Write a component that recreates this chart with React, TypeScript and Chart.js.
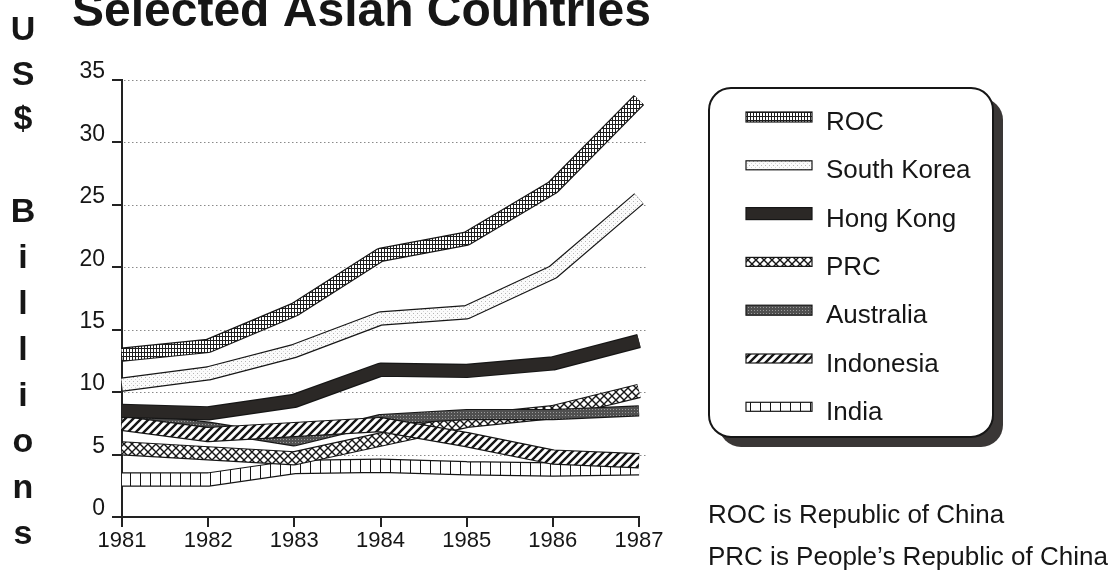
import React, { useEffect, useRef } from 'react';
import { Chart, registerables } from 'chart.js';

Chart.register(...registerables);

const years = ['1981', '1982', '1983', '1984', '1985', '1986', '1987'];
const rocValues = [13.0, 13.7, 16.6, 21.0, 22.3, 26.4, 33.4];
const southKoreaValues = [10.6, 11.5, 13.3, 15.9, 16.4, 19.6, 25.5];
const hongKongValues = [8.5, 8.3, 9.3, 11.8, 11.7, 12.3, 14.1];
const prcValues = [5.5, 5.1, 4.7, 6.2, 7.7, 8.4, 10.1];
const australiaValues = [8.0, 7.2, 6.1, 7.8, 8.2, 8.2, 8.5];
const indonesiaValues = [7.5, 6.6, 7.0, 7.4, 6.2, 4.8, 4.5];
const indiaValues = [3.0, 3.0, 4.0, 4.1, 3.9, 3.8, 3.9];
const seriesNames = ['ROC', 'South Korea', 'Hong Kong', 'PRC', 'Australia', 'Indonesia', 'India'];
const yTickValues = [0, 5, 10, 15, 20, 25, 30, 35];
const titleText = 'Selected Asian Countries';
const axisTitleLetters = ['U', 'S', '$', '', 'B', 'i', 'l', 'l', 'i', 'o', 'n', 's'];
const footnotes = ['ROC is Republic of China', 'PRC is People\u2019s Republic of China'];

const FONT = "'Liberation Sans', Arial, Helvetica, sans-serif";
const INK = '#161616';

function tile(w: number, h: number, draw: (g: CanvasRenderingContext2D) => void) {
  const c = document.createElement('canvas');
  c.width = w;
  c.height = h;
  const g = c.getContext('2d')!;
  draw(g);
  return c;
}

function makePatterns(ctx: CanvasRenderingContext2D) {
  const rep = (c: HTMLCanvasElement) => ctx.createPattern(c, 'repeat') as CanvasPattern;
  const roc = rep(tile(3, 4, (g) => {
    g.fillStyle = '#fff'; g.fillRect(0, 0, 3, 4);
    g.fillStyle = '#1e1e1e'; g.fillRect(0, 0, 3, 1); g.fillRect(0, 0, 1, 4);
  }));
  const sk = rep(tile(4, 4, (g) => {
    g.fillStyle = '#fbfbfb'; g.fillRect(0, 0, 4, 4);
    g.fillStyle = '#b4b4b4'; g.fillRect(1, 1, 1, 1);
    g.fillStyle = '#d4d4d4'; g.fillRect(3, 3, 1, 1);
  }));
  const hk = '#2b2826';
  const prc = rep(tile(8, 8, (g) => {
    g.fillStyle = '#fff'; g.fillRect(0, 0, 8, 8);
    g.strokeStyle = '#161616'; g.lineWidth = 1.4;
    g.beginPath(); g.moveTo(0, 0); g.lineTo(8, 8); g.moveTo(8, 0); g.lineTo(0, 8); g.stroke();
  }));
  const aus = rep(tile(3, 3, (g) => {
    g.fillStyle = '#505050'; g.fillRect(0, 0, 3, 3);
    g.fillStyle = '#9a9a9a'; g.fillRect(1, 1, 1, 1);
  }));
  const indo = rep(tile(8, 8, (g) => {
    g.fillStyle = '#fff'; g.fillRect(0, 0, 8, 8);
    g.strokeStyle = '#161616'; g.lineWidth = 2.4;
    g.beginPath();
    g.moveTo(-2, 10); g.lineTo(10, -2);
    g.moveTo(-6, 6); g.lineTo(6, -6);
    g.moveTo(2, 14); g.lineTo(14, 2);
    g.stroke();
  }));
  const india = rep(tile(10, 7, (g) => {
    g.fillStyle = '#fff'; g.fillRect(0, 0, 10, 7);
    g.fillStyle = '#161616'; g.fillRect(0, 0, 1, 7);
  }));
  return { roc, sk, hk, prc, aus, indo, india };
}

export default function App() {
  const ref = useRef<HTMLCanvasElement>(null);

  useEffect(() => {
    const canvas = ref.current!;
    const ctx = canvas.getContext('2d')!;
    const p = makePatterns(ctx);

    // legend order
    const values = [rocValues, southKoreaValues, hongKongValues, prcValues, australiaValues, indonesiaValues, indiaValues];
    const fills: (string | CanvasPattern)[] = [p.roc, p.sk, p.hk, p.prc, p.aus, p.indo, p.india];
    const widths = [12, 12, 12, 12, 9, 13, 12];
    // layering rank: 0 = top
    const rank = [1, 2, 0, 5, 4, 3, 6];
    const swatchH = [10, 9, 12, 9, 10, 9, 9];

    const datasets: any[] = [];
    values.forEach((data, i) => {
      datasets.push({
        label: seriesNames[i] + ' outline',
        data,
        borderColor: INK,
        borderWidth: widths[i] + 2.4,
        pointRadius: 0,
        tension: 0,
        borderCapStyle: 'butt',
        borderJoinStyle: 'bevel',
        clip: false,
        order: rank[i] * 2 + 1,
      });
      datasets.push({
        label: seriesNames[i],
        data,
        borderColor: fills[i],
        borderWidth: widths[i],
        pointRadius: 0,
        tension: 0,
        borderCapStyle: 'butt',
        borderJoinStyle: 'bevel',
        clip: false,
        order: rank[i] * 2,
      });
    });

    const gridPlugin = {
      id: 'dottedGrid',
      beforeDatasetsDraw(chart: any) {
        const { ctx: c, chartArea, scales } = chart;
        c.save();
        c.strokeStyle = '#8a8a8a';
        c.lineWidth = 1;
        c.setLineDash([1.5, 2.5]);
        yTickValues.forEach((v) => {
          if (v === 0) return;
          const y = Math.round(scales.y.getPixelForValue(v)) + 0.5;
          c.beginPath();
          c.moveTo(chartArea.left + 2, y);
          c.lineTo(chartArea.right + 7, y);
          c.stroke();
        });
        c.restore();
      },
    };

    const decorPlugin = {
      id: 'decor',
      afterDraw(chart: any) {
        const c: CanvasRenderingContext2D = chart.ctx;
        c.save();
        // title (clipped at top as in the reference)
        c.fillStyle = INK;
        c.font = `bold 48px ${FONT}`;
        c.textAlign = 'left';
        c.textBaseline = 'alphabetic';
        c.fillText(titleText, 72, 26);

        // stacked y-axis title
        c.font = `bold 34px ${FONT}`;
        c.textAlign = 'center';
        const baselines = [40, 85, 129, 176, 222, 268, 314, 360, 406, 452, 498, 544];
        axisTitleLetters.forEach((ch, i) => {
          if (ch) c.fillText(ch, 23, baselines[i]);
        });

        // legend box with shadow
        const bx = 709, by = 88, bw = 284, bh = 349, r = 22;
        c.fillStyle = '#3a3736';
        c.beginPath();
        c.roundRect(bx + 10, by + 10, bw, bh, r);
        c.fill();
        c.fillStyle = '#fff';
        c.strokeStyle = INK;
        c.lineWidth = 2;
        c.beginPath();
        c.roundRect(bx, by, bw, bh, r);
        c.fill();
        c.stroke();

        c.textAlign = 'left';
        c.font = `26px ${FONT}`;
        seriesNames.forEach((name, i) => {
          const base = 130 + 48.3 * i;
          const cy = base - 13;
          const h = swatchH[i];
          c.fillStyle = fills[i] as any;
          c.fillRect(746, cy - h / 2, 66, h);
          c.strokeStyle = INK;
          c.lineWidth = 1.2;
          c.strokeRect(746, cy - h / 2, 66, h);
          c.fillStyle = INK;
          c.fillText(name, 826, base);
        });

        // footnotes
        c.font = `26px ${FONT}`;
        c.fillStyle = INK;
        c.fillText(footnotes[0], 708, 523);
        c.fillText(footnotes[1], 708, 565);
        c.restore();
      },
    };

    const chart = new Chart(canvas, {
      type: 'line',
      data: { labels: years, datasets },
      options: {
        responsive: false,
        animation: false,
        devicePixelRatio: 1,
        layout: { padding: { left: 0, top: 80, right: 1117 - 639, bottom: 0 } },
        plugins: {
          legend: { display: false },
          tooltip: { enabled: false },
          title: { display: false },
        },
        scales: {
          x: {
            type: 'category',
            offset: false,
            afterFit: (s: any) => { s.height = 62; },
            border: { display: true, color: '#222', width: 2 },
            grid: { display: true, drawOnChartArea: false, drawTicks: true, tickLength: 10, color: '#222', lineWidth: 2 },
            ticks: { color: INK, font: { family: FONT, size: 22 }, padding: 1, maxRotation: 0, autoSkip: false },
          },
          y: {
            type: 'linear',
            min: yTickValues[0],
            max: yTickValues[yTickValues.length - 1],
            afterFit: (s: any) => { s.width = 122; },
            border: { display: true, color: '#222', width: 2 },
            grid: { display: true, drawOnChartArea: false, drawTicks: true, tickLength: 10, color: '#222', lineWidth: 2 },
            ticks: { stepSize: 5, color: INK, font: { family: FONT, size: 23 }, padding: 7, labelOffset: -8 },
          },
        },
      } as any,
      plugins: [gridPlugin, decorPlugin],
    });

    return () => chart.destroy();
  }, []);

  return (
    <div style={{ position: 'absolute', left: 0, top: 0, width: 1117, height: 579, background: '#fff' }}>
      <canvas ref={ref} width={1117} height={579} style={{ display: 'block' }} />
    </div>
  );
}
